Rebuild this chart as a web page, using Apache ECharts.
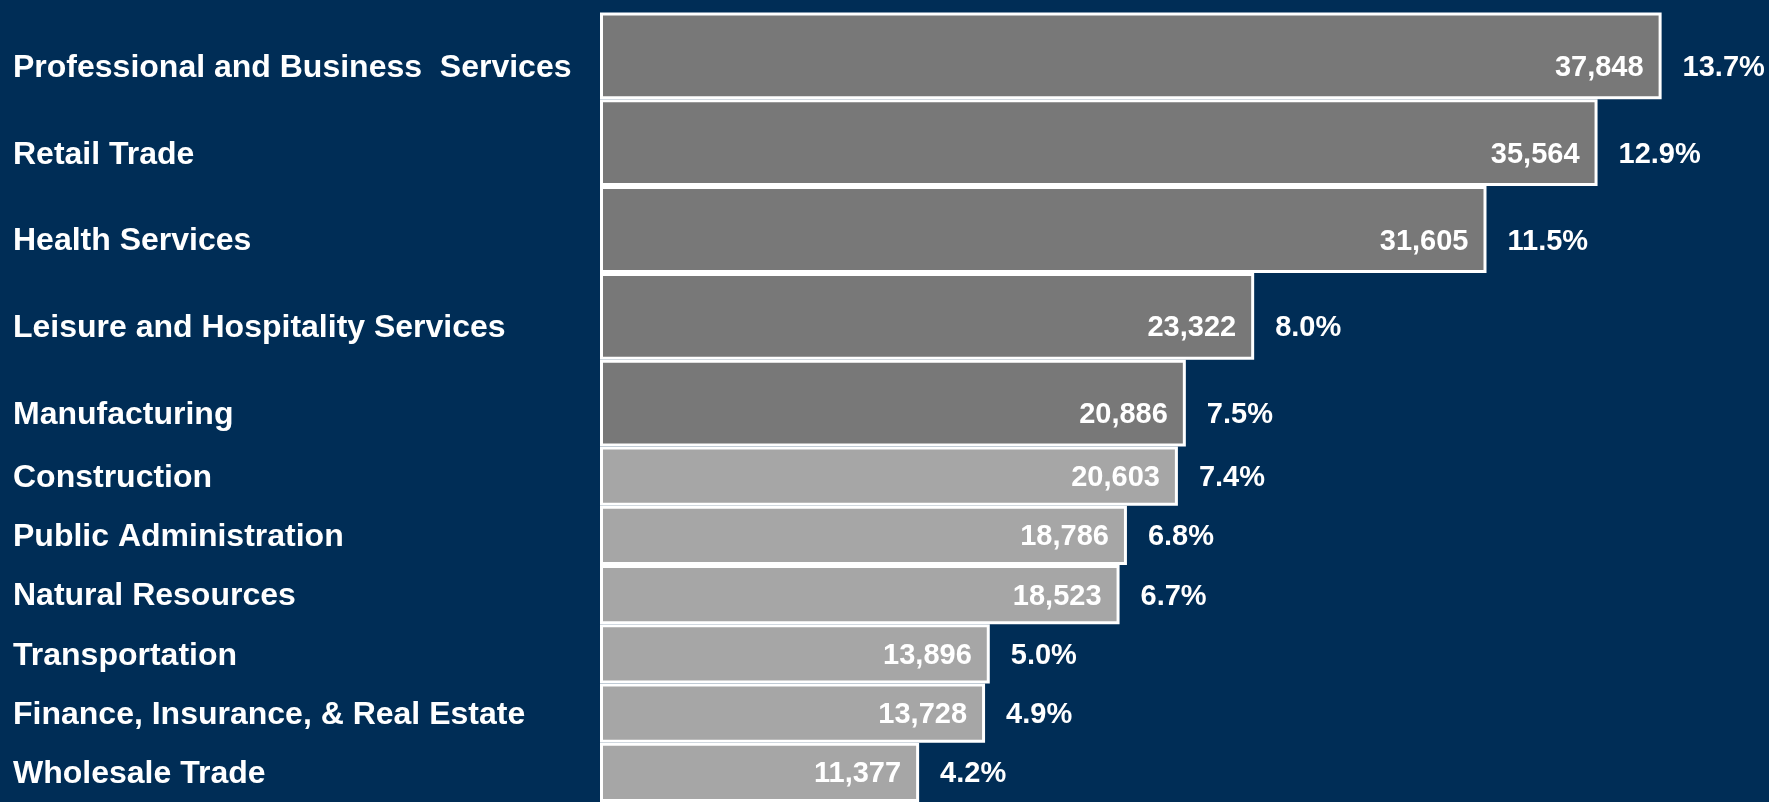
<!DOCTYPE html>
<html>
<head>
<meta charset="utf-8">
<script src="https://cdn.jsdelivr.net/npm/echarts@6/dist/echarts.min.js"></script>
<style>
  html, body { margin: 0; padding: 0; background: #002D56; }
  #chart { width: 1769px; height: 802px; }
</style>
</head>
<body>
<div id="chart"></div>
<script>
// industries, top to bottom
const categories = [
  'Professional and Business  Services',
  'Retail Trade',
  'Health Services',
  'Leisure and Hospitality Services',
  'Manufacturing',
  'Construction',
  'Public Administration',
  'Natural Resources',
  'Transportation',
  'Finance, Insurance, & Real Estate',
  'Wholesale Trade'
]
const jobs = [37848, 35564, 31605, 23322, 20886, 20603, 18786, 18523, 13896, 13728, 11377]
const shares = ['13.7%', '12.9%', '11.5%', '8.0%', '7.5%', '7.4%', '6.8%', '6.7%', '5.0%', '4.9%', '4.2%']
// first five industries are shown in the darker grey
const topCount = 5

const font = '"Liberation Sans", Arial, sans-serif'
const chart = echarts.init(document.getElementById('chart'))

function group (idx, from, to, color, shift) {
  const cats = categories.slice(from, to)
  const vals = jobs.slice(from, to)
  const pcts = shares.slice(from, to)
  return {
    xAxis: {
      gridIndex: idx, type: 'value', min: 0, max: 40500, show: false
    },
    yAxis: {
      gridIndex: idx,
      type: 'category',
      data: cats,
      inverse: true,
      axisLine: { show: false },
      axisTick: { show: false },
      splitLine: { show: false },
      axisLabel: {
        align: 'left',
        verticalAlign: 'top',
        lineHeight: shift * 2,
        margin: 587,
        color: '#fff',
        fontFamily: font,
        fontWeight: 'bold',
        fontSize: 32
      }
    },
    series: [
      {
        type: 'bar',
        xAxisIndex: idx,
        yAxisIndex: idx,
        data: vals,
        barCategoryGap: 0,
        itemStyle: { color: color, borderColor: '#fff', borderWidth: 3 },
        label: {
          show: true,
          position: 'insideRight',
          distance: 18,
          offset: [0, shift],
          color: '#fff',
          fontFamily: font,
          fontWeight: 'bold',
          fontSize: 29,
          formatter: p => p.value.toLocaleString('en-US')
        },
        silent: true
      },
      {
        // invisible copy, only carries the share label
        type: 'bar',
        xAxisIndex: idx,
        yAxisIndex: idx,
        data: vals,
        barGap: '-100%',
        barCategoryGap: 0,
        itemStyle: { color: 'rgba(0,0,0,0)' },
        label: {
          show: true,
          position: 'right',
          distance: 21,
          offset: [0, shift],
          color: '#fff',
          fontFamily: font,
          fontWeight: 'bold',
          fontSize: 29,
          formatter: p => pcts[p.dataIndex]
        },
        silent: true
      }
    ]
  }
}

const g1 = group(0, 0, topCount, '#787878', 12)
const g2 = group(1, topCount, categories.length, '#A6A6A6', 2)

const option = {
  backgroundColor: '#002D56',
  animation: false,
  grid: [
    { left: 600, width: 1136, top: 12.5, height: 434 },
    { left: 600, width: 1136, top: 446.5, height: 360 }
  ],
  xAxis: [g1.xAxis, g2.xAxis],
  yAxis: [g1.yAxis, g2.yAxis],
  series: g1.series.concat(g2.series)
}
chart.setOption(option)
window.onresize = () => chart.resize()
</script>
</body>
</html>
